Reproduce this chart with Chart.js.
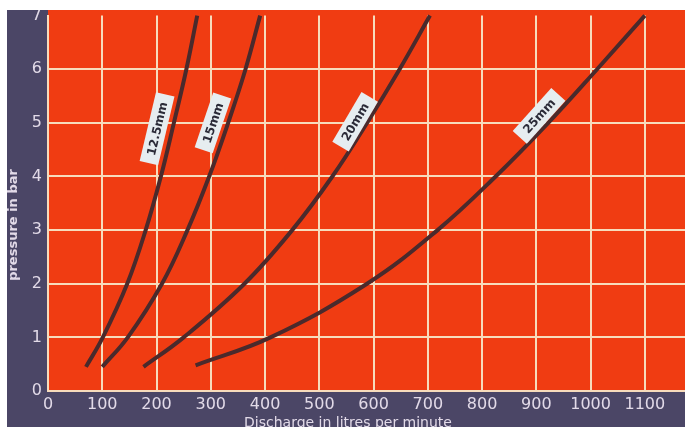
<!DOCTYPE html>
<html>
<head>
<meta charset="utf-8">
<script src="https://cdn.jsdelivr.net/npm/chart.js@4/dist/chart.umd.min.js"></script>
<style>
html,body{margin:0;padding:0;background:#ffffff;}
#wrap{width:685px;height:427px;}
</style>
</head>
<body>
<div id="wrap"><canvas id="c" width="685" height="427"></canvas></div>
<script>
// ---- data ----
const seriesNames = ["12.5mm", "15mm", "20mm", "25mm"];
const pressure125 = [0.45, 1, 2, 3, 4, 5, 6, 7];
const flow125     = [70, 101, 146, 180, 208, 232, 255, 275];
const pressure15  = [0.45, 1, 2, 3, 4, 5, 6, 7];
const flow15      = [100, 147, 210, 257, 297, 332, 364, 391];
const pressure20  = [0.45, 1, 2, 3, 4, 5, 6, 7];
const flow20      = [176, 250, 362, 450, 524, 588, 648, 704];
const pressure25  = [0.48, 1, 2, 3, 4, 5, 6, 7];
const flow25      = [272, 410, 588, 718, 825, 922, 1012, 1100];
const xTicks = [0, 100, 200, 300, 400, 500, 600, 700, 800, 900, 1000, 1100];
const yTicks = [0, 1, 2, 3, 4, 5, 6, 7];
const labelFlow     = [201, 304, 566, 905];
const labelPressure = [4.89, 5.0, 5.02, 5.13];
const xTitle = "Discharge in litres per minute";
const yTitle = "pressure in bar";

const seriesP = [pressure125, pressure15, pressure20, pressure25];
const seriesQ = [flow125, flow15, flow20, flow25];

const NAVY = '#4b4666';
const RED = '#f03c12';
const GRID = '#f7dcbc';
const CURVE = '#4a2a2c';
const TEXT = '#e2dae8';

const datasets = seriesNames.map((n, i) => ({
  label: n,
  data: seriesQ[i].map((q, j) => ({x: q, y: seriesP[i][j]})),
  borderColor: CURVE,
  borderWidth: 4,
  pointRadius: 0,
  tension: 0.4,
  fill: false,
  clip: false
}));

const bgPlugin = {
  id: 'bg',
  beforeDraw(chart) {
    const {ctx, chartArea: a} = chart;
    ctx.save();
    ctx.fillStyle = '#ffffff';
    ctx.fillRect(0, 0, chart.width, chart.height);
    ctx.fillStyle = NAVY;
    ctx.fillRect(7, 10, chart.width - 7, chart.height - 10);
    ctx.fillStyle = RED;
    ctx.fillRect(a.left, 10, chart.width - a.left, a.bottom - 10);
    ctx.restore();
  }
};

const labelPlugin = {
  id: 'curveLabels',
  afterDatasetsDraw(chart) {
    const {ctx, scales: {x, y}} = chart;
    ctx.save();
    seriesNames.forEach((name, i) => {
      const P = seriesP[i], Q = seriesQ[i];
      const p = labelPressure[i];
      let k = 1;
      while (k < P.length - 1 && P[k] < p) k++;
      const a0 = Math.max(0, k - 1), a1 = Math.min(P.length - 1, k + 1);
      const dx = x.getPixelForValue(Q[a1]) - x.getPixelForValue(Q[a0]);
      const dy = y.getPixelForValue(P[a1]) - y.getPixelForValue(P[a0]);
      const ang = Math.atan2(dy, dx);
      const cx = x.getPixelForValue(labelFlow[i]);
      const cy = y.getPixelForValue(labelPressure[i]);
      ctx.save();
      ctx.translate(cx, cy);
      ctx.rotate(ang);
      ctx.font = 'bold 12px "DejaVu Sans"';
      const w = ctx.measureText(name).width + 16;
      const h = 19;
      ctx.fillStyle = '#e6edf0';
      ctx.fillRect(-w / 2, -h / 2, w, h);
      ctx.fillStyle = '#2b2b38';
      ctx.textAlign = 'center';
      ctx.textBaseline = 'middle';
      ctx.fillText(name, 0, 1);
      ctx.restore();
    });
    ctx.restore();
  }
};

const framePlugin = {
  id: 'frame',
  afterDraw(chart) {
    const {ctx} = chart;
    ctx.save();
    ctx.fillStyle = '#ffffff';
    ctx.fillRect(0, 0, chart.width, 10);
    ctx.fillRect(0, 0, 7, chart.height);
    ctx.fillStyle = TEXT;
    ctx.textAlign = 'center';
    ctx.textBaseline = 'middle';
    ctx.font = '14px "DejaVu Sans"';
    ctx.fillText(xTitle, 348, 423);
    ctx.translate(14, 225);
    ctx.rotate(-Math.PI / 2);
    ctx.font = 'bold 13px "DejaVu Sans"';
    ctx.fillText(yTitle, 0, 0);
    ctx.restore();
  }
};

new Chart(document.getElementById('c'), {
  type: 'line',
  data: {datasets},
  plugins: [bgPlugin, labelPlugin, framePlugin],
  options: {
    responsive: false,
    devicePixelRatio: 1,
    animation: false,
    layout: {padding: {top: 12, right: 0, left: 0, bottom: 0}},
    plugins: {legend: {display: false}, tooltip: {enabled: false}},
    scales: {
      x: {
        type: 'linear',
        min: 0,
        max: 1174,
        afterBuildTicks: s => { s.ticks = xTicks.map(v => ({value: v})); },
        afterFit: s => { s.height = 36; },
        grid: {color: GRID, lineWidth: 2, drawTicks: false},
        border: {color: GRID, width: 2},
        ticks: {color: TEXT, padding: 4, font: {family: 'DejaVu Sans', size: 16}, maxRotation: 0, autoSkip: false,
                callback: v => String(v)}
      },
      y: {
        type: 'linear',
        min: 0,
        max: 7,
        afterBuildTicks: s => { s.ticks = yTicks.map(v => ({value: v})); },
        afterFit: s => { s.width = 48; },
        grid: {color: c => (c.tick && c.tick.value === 7) ? 'rgba(0,0,0,0)' : GRID, lineWidth: 2, drawTicks: false},
        border: {color: GRID, width: 2},
        ticks: {color: TEXT, padding: 6, font: {family: 'DejaVu Sans', size: 16}, autoSkip: false,
                callback: v => String(v)}
      }
    }
  }
});
</script>
</body>
</html>
